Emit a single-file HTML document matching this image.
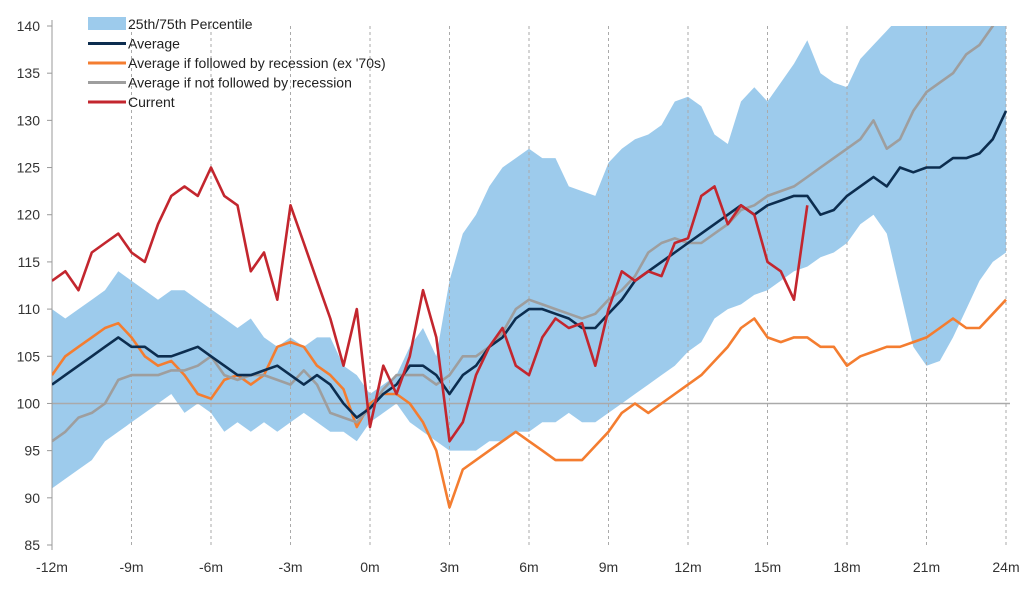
<!DOCTYPE html>
<html><head><meta charset="utf-8"><style>
body{margin:0;background:#fff;font-family:"Liberation Sans",sans-serif}
</style></head><body>
<svg id="chart" width="1035" height="597" xmlns="http://www.w3.org/2000/svg" font-family="Liberation Sans, sans-serif"></svg>
<script>
const months=[];for(let i=0;i<=72;i++)months.push(-12+i*0.5);
const bandUpper=[110,109,110,111,112,114,113,112,111,112,112,111,110,109,108,109,107,106,107,106,107,107,104,103,101,102,103,106,108,105,113,118,120,123,125,126,127,126,126,123,122.5,122,125.5,127,128,128.5,129.5,132,132.5,131.5,128.5,127.5,132,133.5,132,134,136,138.5,135,134,133.5,136.5,138,139.5,141,142,142,142,142,142,142,142,142];
const bandLower=[91,92,93,94,96,97,98,99,100,101,99,100,99,97,98,97,98,97,98,99,98,97,97,96,98,99,100,98,97,96,95,95,95,96,96,97,97,98,98,99,98,98,99,100,101,102,103,104,105.5,106.5,109,110,110.5,111.5,112,113,114,114.5,115.5,116,117,119,120,118,112,106,104,104.5,107,110,113,115,116];
const avgAll=[102,103,104,105,106,107,106,106,105,105,105.5,106,105,104,103,103,103.5,104,103,102,103,102,100,98.5,99.5,101,102,104,104,103,101,103,104,106,107,109,110,110,109.5,109,108,108,109.5,111,113,114,115,116,117,118,119,120,121,120,121,121.5,122,122,120,120.5,122,123,124,123,125,124.5,125,125,126,126,126.5,128,131];
const avgRecession=[103,105,106,107,108,108.5,107,105,104,104.5,103,101,100.5,102.5,103,102,103,106,106.5,106,104,103,101.5,97.5,100,101,101,100,98,95,89,93,94,95,96,97,96,95,94,94,94,95.5,97,99,100,99,100,101,102,103,104.5,106,108,109,107,106.5,107,107,106,106,104,105,105.5,106,106,106.5,107,108,109,108,108,109.5,111];
const avgNoRecession=[96,97,98.5,99,100,102.5,103,103,103,103.5,103.5,104,105,103,102.5,103,103,102.5,102,103.5,102,99,98.5,98,99.5,101.5,103,103,103,102,103,105,105,106,107.5,110,111,110.5,110,109.5,109,109.5,111,112,113.5,116,117,117.5,117,117,118,119,120.5,121,122,122.5,123,124,125,126,127,128,130,127,128,131,133,134,135,137,138,140,142];
const current=[113,114,112,116,117,118,116,115,119,122,123,122,125,122,121,114,116,111,121,117,113,109,104,110,97.5,104,101,105,112,107,96,98,103,106,108,104,103,107,109,108,108.5,104,110,114,113,114,113.5,117,117.5,122,123,119,121,120,115,114,111,121];
const yTicks=[85,90,95,100,105,110,115,120,125,130,135,140];
const xTicks=[-12,-9,-6,-3,0,3,6,9,12,15,18,21,24];
const xLabels=["-12m","-9m","-6m","-3m","0m","3m","6m","9m","12m","15m","18m","21m","24m"];
const legendLabels=["25th/75th Percentile","Average","Average if followed by recession (ex '70s)","Average if not followed by recession","Current"];

const NS="http://www.w3.org/2000/svg";
const svg=document.getElementById('chart');
const X0=52,X1=1006,Y0=545,Y1=26;
const xs=m=>X0+(m+12)/36*(X1-X0);
const ys=v=>Y0-(v-85)/55*(Y0-Y1);
function el(t,a){const e=document.createElementNS(NS,t);for(const k in a)e.setAttribute(k,a[k]);svg.appendChild(e);return e;}
const defs=el('defs',{});
const cp=document.createElementNS(NS,'clipPath');cp.setAttribute('id','clip');defs.appendChild(cp);
const r=document.createElementNS(NS,'rect');r.setAttribute('x',X0);r.setAttribute('y',Y1);r.setAttribute('width',X1-X0+4);r.setAttribute('height',Y0-Y1);cp.appendChild(r);

let d='';months.forEach((m,i)=>{d+=(i?'L':'M')+xs(m).toFixed(1)+','+ys(bandUpper[i]).toFixed(1);});
for(let i=months.length-1;i>=0;i--)d+='L'+xs(months[i]).toFixed(1)+','+ys(bandLower[i]).toFixed(1);
const band=el('path',{d:d+'Z',fill:'#9dcbec','clip-path':'url(#clip)'});



xTicks.forEach((t,i)=>{
 if(i>0){const g=el('line',{x1:xs(t),x2:xs(t),y1:Y1,y2:Y0,stroke:'#aaa','stroke-dasharray':'3,3','stroke-width':1});
 }
 const tx=el('text',{x:xs(t),y:572,'text-anchor':'middle','font-size':14,fill:'#333'});tx.textContent=xLabels[i];
 
});
const base=el('line',{x1:X0,x2:X1+4,y1:ys(100),y2:ys(100),stroke:'#aaa','stroke-width':1.5});

yTicks.forEach(t=>{
 const tk=el('line',{x1:X0-5,x2:X0,y1:ys(t),y2:ys(t),stroke:'#999'});
 
 const tx=el('text',{x:40,y:ys(t)+5,'text-anchor':'end','font-size':14,fill:'#333'});tx.textContent=t;
 
});
const ax=el('line',{x1:X0,x2:X0,y1:Y1-6,y2:Y0+5,stroke:'#999','stroke-width':1});


function line(arr,color,name){
 let p='';arr.forEach((v,i)=>{p+=(i?'L':'M')+xs(months[i]).toFixed(1)+','+ys(v).toFixed(1);});
 const e=el('path',{d:p,fill:'none',stroke:color,'stroke-width':2.6,'stroke-linejoin':'round','clip-path':'url(#clip)'});
 
}
line(avgRecession,'#f47d30','line-recession');
line(avgNoRecession,'#9e9e9e','line-no-recession');
line(avgAll,'#0c2d4f','line-average');
line(current,'#c3262e','line-current');

const lcolors=['#9dcbec','#0c2d4f','#f47d30','#9e9e9e','#c3262e'];
legendLabels.forEach((lb,i)=>{
 const y=24+i*19.5;
 if(i===0){const s=el('rect',{x:88,y:y-7,width:38,height:13,fill:lcolors[0]});}
 else{const s=el('line',{x1:88,x2:126,y1:y,y2:y,stroke:lcolors[i],'stroke-width':3});}
 const t=el('text',{x:128,y:y+5,'font-size':14,fill:'#222'});t.textContent=lb;
 
});
</script>
</body></html>
